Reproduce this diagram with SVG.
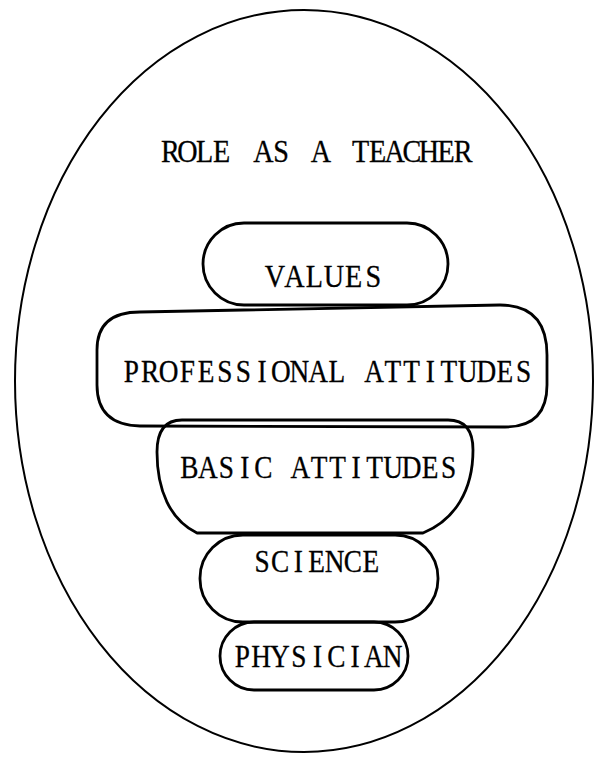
<svg xmlns="http://www.w3.org/2000/svg" width="596" height="763" viewBox="0 0 596 763">
<style>
.s{fill:none;stroke:#000;stroke-width:2.8;stroke-linejoin:round}
.o{fill:none;stroke:#000;stroke-width:2}
.t{font-family:"Liberation Serif","DejaVu Serif",serif;font-size:31px;fill:#000;stroke:#000;stroke-width:0.3;text-anchor:middle}
</style>
<rect width="596" height="763" fill="#fff"/>
<g id="role">
<ellipse class="o" cx="304" cy="381" rx="289" ry="371"/>
<text class="t" style="font-size:32px" transform="translate(162,162) scale(0.88,1)" x="9.66 28.97 48.29 67.61 86.36 115.34 135.23 156.82 180.68 197.73 225.56 245.00 264.43 283.86 303.29 322.72 342.16" y="0">ROLE AS A TEACHER</text>
</g>
<g id="values">
<rect class="s" x="203" y="223" width="245" height="82" rx="41" ry="41"/>
<text class="t" style="font-size:32px" transform="translate(265,287) scale(0.88,1)" x="11.19 33.58 55.96 78.35 100.73 123.12" y="0">VALUES</text>
</g>
<g id="professional">
<path class="s" d="M140 312 L500 305 Q547 305 547 355 L547 385 Q547 427 505 427 L140 426 Q97 425 97 385 L97 350 Q97 312 140 312 Z"/>
<text class="t" transform="translate(122,382) scale(0.88,1)" x="10.61 31.84 53.07 74.29 95.52 116.75 137.97 159.20 180.43 201.65 222.88 244.11 265.33 286.56 307.79 329.01 350.24 371.47 392.70 413.92 435.15 456.38" y="0">PROFESSIONAL ATTITUDES</text>
</g>
<g id="basic">
<path class="s" d="M182 420 L448 420 Q473 420 473 450 C473 490 455 520 423 533 L197 533 C170 520 157 490 157 452 Q157 420 182 420 Z"/>
<text class="t" transform="translate(180,478) scale(0.88,1)" x="10.53 31.59 52.65 73.70 94.76 115.82 136.88 157.93 178.99 200.05 221.10 242.16 263.22 284.28 305.33" y="0">BASIC ATTITUDES</text>
</g>
<g id="science">
<rect class="s" x="200" y="535" width="238" height="87" rx="43" ry="43"/>
<text class="t" transform="translate(253,572) scale(0.88,1)" x="10.31 30.92 51.53 72.15 92.76 113.38 133.99" y="0">SCIENCE</text>
</g>
<g id="physician">
<rect class="s" x="220" y="622" width="188" height="68" rx="34" ry="34"/>
<text class="t" transform="translate(233,667) scale(0.88,1)" x="10.67 32.01 53.35 74.69 96.03 117.38 138.72 160.06 181.40" y="0">PHYSICIAN</text>
</g>
</svg>
